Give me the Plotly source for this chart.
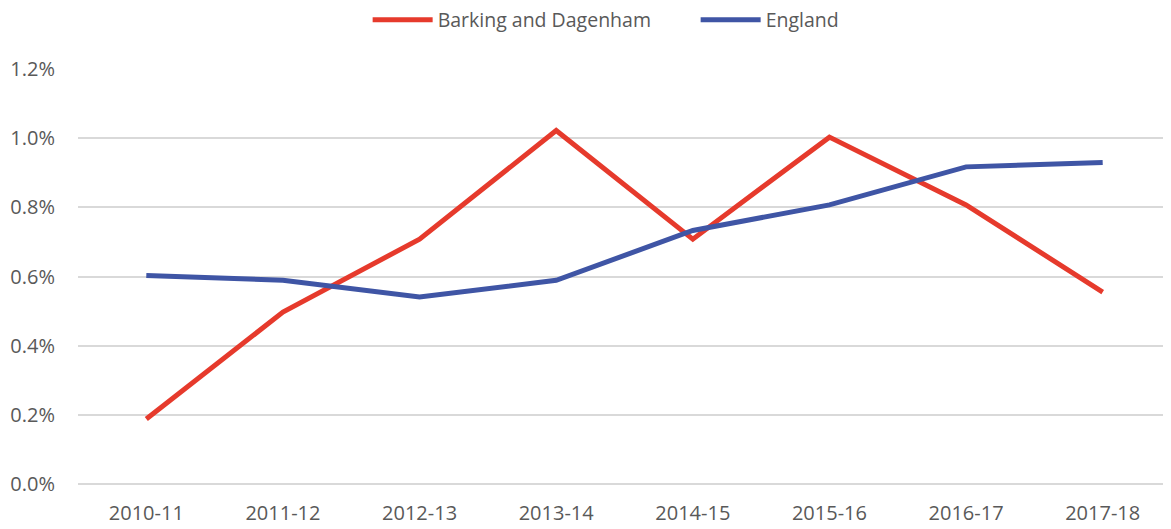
import plotly.graph_objects as go

years = ["2010-11", "2011-12", "2012-13", "2013-14", "2014-15", "2015-16", "2016-17", "2017-18"]
barking = [0.00188, 0.00497, 0.00708, 0.01022, 0.00708, 0.01003, 0.00807, 0.00555]
england = [0.00603, 0.00589, 0.00541, 0.00589, 0.00733, 0.00807, 0.00917, 0.00930]

font_family = "Open Sans, Liberation Sans, sans-serif"
grey = "#595959"

fig = go.Figure()
fig.add_trace(go.Scatter(x=years, y=barking, name="Barking and Dagenham", mode="lines",
                         line=dict(color="#E63A2C", width=5)))
fig.add_trace(go.Scatter(x=years, y=england, name="England", mode="lines",
                         line=dict(color="#3F55A5", width=5)))

# page body has an 8px margin, so the figure is sized to fit inside the window
fig.update_layout(
    width=1163, height=521,
    paper_bgcolor="white", plot_bgcolor="white",
    margin=dict(l=70, r=0, t=61, b=45),
    font=dict(family=font_family, size=20, color=grey),
    legend=dict(orientation="h", x=0.265, xanchor="left", xref="paper",
                y=0.977, yanchor="middle", yref="container",
                font=dict(size=19.5, color=grey), itemwidth=60, entrywidth=253),
    showlegend=True,
)
fig.update_xaxes(type="category", range=[-0.5, 7.5], showgrid=False, showline=False, ticks="",
                 ticklabelstandoff=15, tickfont=dict(size=20, color=grey))
fig.update_yaxes(range=[0, 0.012], dtick=0.002, tickformat=".1%", showgrid=True,
                 gridcolor="#D9D9D9", gridwidth=1.5, zeroline=True, zerolinecolor="#D9D9D9",
                 zerolinewidth=1.5, ticks="", ticklabelstandoff=22,
                 tickfont=dict(size=20, color=grey))

fig.write_html("out.html")
